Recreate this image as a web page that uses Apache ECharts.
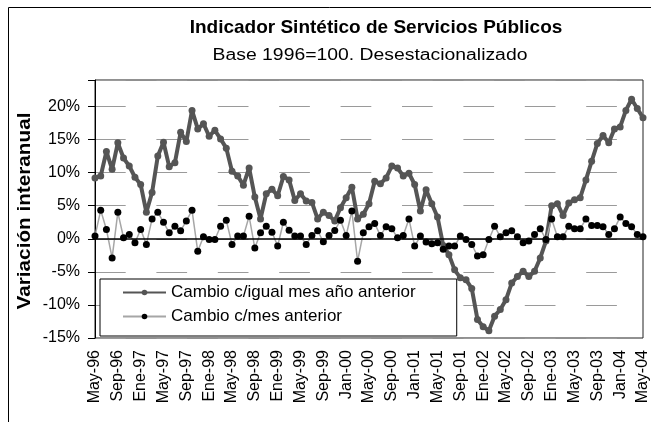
<!DOCTYPE html>
<html><head><meta charset="utf-8">
<script src="https://cdn.jsdelivr.net/npm/echarts@6/dist/echarts.min.js"></script>
<style>html,body{margin:0;padding:0;background:#fff}#c{width:651px;height:422px}</style>
</head><body><div id="c"></div>
<script>
const categories = [
 'May-96','Jun-96','Jul-96','Ago-96','Sep-96','Oct-96','Nov-96','Dic-96',
 'Ene-97','Feb-97','Mar-97','Abr-97','May-97','Jun-97','Jul-97','Ago-97','Sep-97','Oct-97','Nov-97','Dic-97',
 'Ene-98','Feb-98','Mar-98','Abr-98','May-98','Jun-98','Jul-98','Ago-98','Sep-98','Oct-98','Nov-98','Dic-98',
 'Ene-99','Feb-99','Mar-99','Abr-99','May-99','Jun-99','Jul-99','Ago-99','Sep-99','Oct-99','Nov-99','Dic-99',
 'Jan-00','Feb-00','Mar-00','Apr-00','May-00','Jun-00','Jul-00','Aug-00','Sep-00','Oct-00','Nov-00','Dec-00',
 'Jan-01','Feb-01','Mar-01','Apr-01','May-01','Jun-01','Jul-01','Aug-01','Sep-01','Oct-01','Nov-01','Dec-01',
 'Ene-02','Feb-02','Mar-02','Abr-02','May-02','Jun-02','Jul-02','Ago-02','Sep-02','Oct-02','Nov-02','Dic-02',
 'Ene-03','Feb-03','Mar-03','Abr-03','May-03','Jun-03','Jul-03','Ago-03','Sep-03','Oct-03','Nov-03','Dic-03',
 'Jan-04','Feb-04','Mar-04','Apr-04','May-04'
];
const cambioAnual = [
 9.2, 9.5, 13.2, 10.5, 14.5, 12.2, 11.0, 9.3, 8.2, 4.0, 7.0, 12.5,
 14.6, 10.9, 11.5, 16.1, 14.7, 19.4, 16.6, 17.4, 15.5, 16.4, 15.1, 13.7,
 10.2, 9.5, 8.1, 10.7, 6.3, 3.0, 6.8, 7.5, 6.5, 9.4, 8.9, 5.8,
 6.8, 5.7, 5.5, 3.0, 4.0, 3.5, 2.7, 4.7, 6.2, 7.8, 3.0, 3.7,
 5.3, 8.7, 8.3, 9.2, 11.0, 10.7, 9.5, 9.9, 8.2, 4.2, 7.4, 5.3,
 3.3, -1.0, -2.4, -4.7, -5.9, -6.2, -7.5, -12.2, -13.3, -13.9, -11.7, -10.7,
 -9.2, -6.7, -5.7, -4.9, -5.7, -4.9, -2.9, -0.35, 5.0, 5.3, 3.5, 5.4,
 5.9, 6.2, 8.9, 11.7, 14.4, 15.6, 14.5, 16.6, 16.9, 19.4, 21.1, 19.7,
 18.3
];
const cambioMensual = [
 0.4, 4.3, 1.4, -2.9, 4.0, 0.15, 0.65, -0.6, 1.4, -0.85, 3.0, 4.0,
 2.5, 0.9, 1.9, 1.2, 2.7, 4.3, -1.9, 0.3, -0.1, -0.1, 1.9, 2.8,
 -0.85, 0.4, 0.4, 3.4, -1.4, 0.9, 1.9, 1.0, -1.1, 2.5, 1.3, 0.4,
 0.4, -0.85, 0.5, 1.2, -0.45, 0.5, 1.25, 2.8, 0.5, 4.2, -3.4, 0.9,
 1.8, 2.3, 0.5, 1.8, 1.5, 0.15, 0.5, 3.0, -1.1, 0.4, -0.5, -0.75,
 -0.6, -1.6, -1.1, -1.1, 0.4, -0.1, -0.85, -2.6, -2.4, -0.1, 1.9, 0.3,
 0.9, 1.2, 0.3, -0.6, -0.35, 0.65, 1.5, -0.1, 3.0, 0.3, 0.3, 1.9,
 1.5, 1.5, 3.0, 2.0, 2.0, 1.8, 0.65, 1.5, 3.3, 2.3, 1.8, 0.65,
 0.3
];
const yTickValues = [-15, -10, -5, 0, 5, 10, 15, 20];
const seriesNames = ['Cambio c/igual mes año anterior', 'Cambio c/mes anterior'];
const titleText = 'Indicador Sintético de Servicios Públicos';
const subtitleText = 'Base 1996=100. Desestacionalizado';
const yAxisTitle = 'Variación interanual';

const FONT = '"Liberation Sans", Arial, Helvetica, sans-serif';
const chart = echarts.init(document.getElementById('c'), null, {renderer: 'canvas'});
chart.setOption({
  animation: false,
  backgroundColor: '#fff',
  textStyle: {fontFamily: FONT},
  grid: {left: 95, top: 80, right: 4, bottom: 84, show: true, borderColor: '#222', borderWidth: 1, backgroundColor: 'rgba(0,0,0,0)'},
  xAxis: {
    type: 'category', data: categories, boundaryGap: false,
    axisLine: {show: false}, axisTick: {show: false}, splitLine: {show: false},
    axisLabel: {interval: 3, rotate: 90, margin: 12, fontSize: 16, color: '#000', fontFamily: FONT}
  },
  yAxis: {
    type: 'value', min: -15, max: 24, interval: 5,
    axisLine: {show: true, lineStyle: {color: '#000', width: 1}},
    axisTick: {show: true, inside: false, length: 7, lineStyle: {color: '#000', width: 1}},
    axisLabel: {formatter: v => (yTickValues.indexOf(v) >= 0 ? v + '%' : ''), margin: 15, fontSize: 16, color: '#000', fontFamily: FONT},
    splitLine: {show: true, lineStyle: {color: '#9a9a9a', width: 1, type: [30.7, 30.7]}}
  },
  legend: {
    orient: 'vertical', left: 100, top: 279, itemWidth: 43, itemHeight: 7, itemGap: 7,
    padding: [5, 41, 11, 22], borderColor: '#000', borderWidth: 1, backgroundColor: '#fff',
    textStyle: {fontSize: 17, color: '#000', fontFamily: FONT},
    data: seriesNames
  },
  series: [
    {
      name: seriesNames[0], type: 'line', data: cambioAnual, symbol: 'circle', symbolSize: 7, showAllSymbol: true,
      lineStyle: {color: '#555', width: 4}, itemStyle: {color: '#555'}, z: 2,
      emphasis: {disabled: true},
      markLine: {silent: true, symbol: 'none', label: {show: false}, animation: false,
        lineStyle: {color: '#000', width: 1.5, type: 'solid'}, data: [{yAxis: 0}]}
    },
    {
      name: seriesNames[1], type: 'line', data: cambioMensual, symbol: 'circle', symbolSize: 7, showAllSymbol: true,
      lineStyle: {color: '#a6a6a6', width: 1.5}, itemStyle: {color: '#000'}, z: 3,
      emphasis: {disabled: true}
    }
  ],
  graphic: [
    {type: 'polyline', silent: true, shape: {points: [[8.5, 422], [8.5, 7.5], [651, 7.5]]}, style: {stroke: '#000', lineWidth: 1, fill: null}},
    {type: 'text', silent: true, x: 376, y: 28, style: {text: titleText, fontSize: 19, fontWeight: 'bold', fontFamily: FONT, fill: '#000', textAlign: 'center', textVerticalAlign: 'middle'}},
    {type: 'text', silent: true, x: 370, y: 56, scaleX: 1.21, style: {text: subtitleText, fontSize: 16, fontFamily: FONT, fill: '#000', textAlign: 'center', textVerticalAlign: 'middle'}},
    {type: 'text', silent: true, x: 25, y: 211, rotation: Math.PI / 2, scaleX: 1.09, style: {text: yAxisTitle, fontSize: 19, fontWeight: 'bold', fontFamily: FONT, fill: '#000', textAlign: 'center', textVerticalAlign: 'middle'}}
  ]
});
</script>
</body></html>
